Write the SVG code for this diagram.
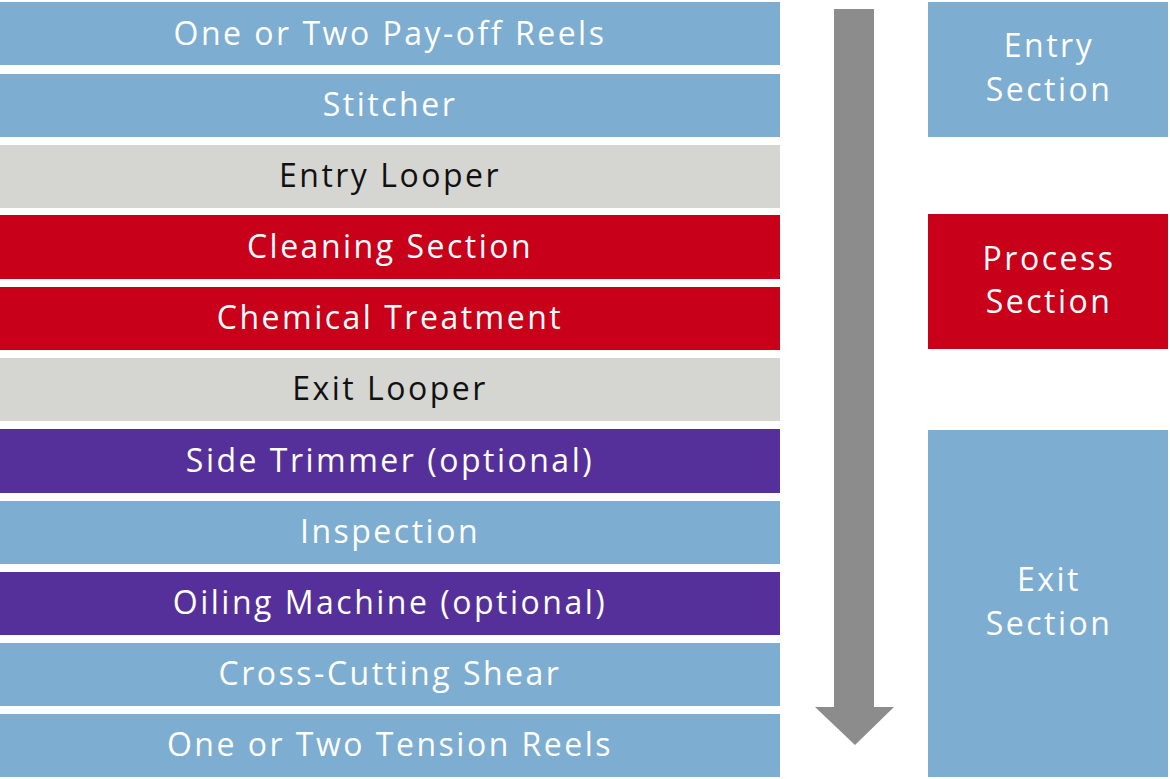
<svg xmlns="http://www.w3.org/2000/svg" width="1170" height="779" viewBox="0 0 1170 779">
<style>
.blue{fill:#7DADD0}
.grey{fill:#D5D6D1}
.red{fill:#C8001A}
.purple{fill:#55309A}
text{font-family:"Open Sans","Noto Sans","Liberation Sans",sans-serif;font-size:32px;letter-spacing:2.5px;text-anchor:middle}
.w{fill:#FFFFFF}
.k{fill:#111111}
</style>
<rect width="1170" height="779" fill="#FFFFFF"/>
<g id="n1"><rect class="blue" x="0" y="2" width="780" height="63"/><text class="w" x="390" y="45">One or Two Pay-off Reels</text></g>
<g id="n2"><rect class="blue" x="0" y="74" width="780" height="63"/><text class="w" x="390" y="116">Stitcher</text></g>
<g id="n3"><rect class="grey" x="0" y="145" width="780" height="63"/><text class="k" x="390" y="187">Entry Looper</text></g>
<g id="n4"><rect class="red" x="0" y="215" width="780" height="64"/><text class="w" x="390" y="258">Cleaning Section</text></g>
<g id="n5"><rect class="red" x="0" y="287" width="780" height="63"/><text class="w" x="390" y="329">Chemical Treatment</text></g>
<g id="n6"><rect class="grey" x="0" y="358" width="780" height="63"/><text class="k" x="390" y="400">Exit Looper</text></g>
<g id="n7"><rect class="purple" x="0" y="429" width="780" height="64"/><text class="w" x="390" y="472">Side Trimmer (optional)</text></g>
<g id="n8"><rect class="blue" x="0" y="501" width="780" height="63"/><text class="w" x="390" y="543">Inspection</text></g>
<g id="n9"><rect class="purple" x="0" y="572" width="780" height="63"/><text class="w" x="390" y="614">Oiling Machine (optional)</text></g>
<g id="n10"><rect class="blue" x="0" y="643" width="780" height="63"/><text class="w" x="390" y="685">Cross-Cutting Shear</text></g>
<g id="n11"><rect class="blue" x="0" y="714" width="780" height="63"/><text class="w" x="390" y="756">One or Two Tension Reels</text></g>
<g id="connectors"><polygon fill="#8C8C8C" points="834,9 874,9 874,707 894,707 855,745 815,707 834,707"/></g>
<g id="entry"><rect class="blue" x="928" y="2" width="240" height="135"/><text class="w" x="1049" y="57">Entry</text><text class="w" x="1049" y="101">Section</text></g>
<g id="process"><rect class="red" x="928" y="214" width="240" height="135"/><text class="w" x="1049" y="270">Process</text><text class="w" x="1049" y="313">Section</text></g>
<g id="exit"><rect class="blue" x="928" y="430" width="240" height="347"/><text class="w" x="1049" y="591">Exit</text><text class="w" x="1049" y="635">Section</text></g>
</svg>
